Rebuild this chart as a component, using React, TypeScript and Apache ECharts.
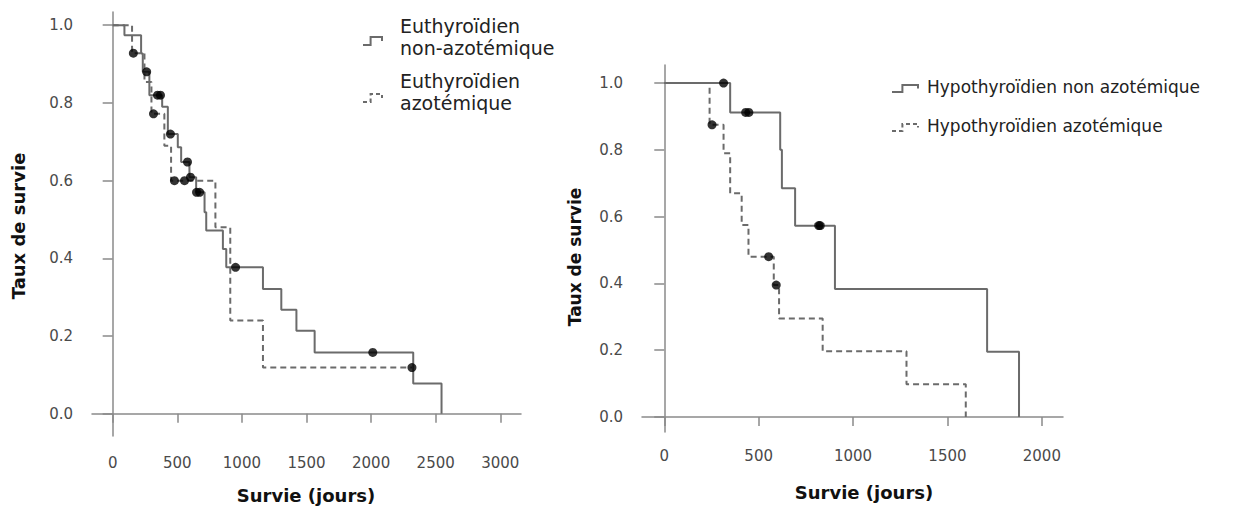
import React, { useEffect, useRef } from "react";
import * as echarts from "echarts";

// ---- Data ----
const yTicks = [0, 0.2, 0.4, 0.6, 0.8, 1.0];
const xTicksLeft = [0, 500, 1000, 1500, 2000, 2500, 3000];
const xTicksRight = [0, 500, 1000, 1500, 2000];

// Left: euthyroid
const euNonAzo: number[][] = [
  [0, 1], [91, 0.974], [220, 0.927], [233, 0.88], [284, 0.82], [383, 0.79], [427, 0.72],
  [504, 0.686], [530, 0.648], [594, 0.609], [646, 0.57], [711, 0.519], [724, 0.472],
  [853, 0.424], [879, 0.377], [1163, 0.321], [1305, 0.268], [1422, 0.214], [1563, 0.158],
  [2326, 0.078], [2545, 0],
];
const euNonAzoCensored: number[][] = [
  [263, 0.88], [347, 0.82], [370, 0.82], [447, 0.72], [579, 0.648], [602, 0.609],
  [649, 0.57], [673, 0.57], [951, 0.377], [2013, 0.158],
];
const euAzo: number[][] = [
  [0, 1], [150, 0.928], [246, 0.854], [300, 0.772], [400, 0.69], [452, 0.6],
  [795, 0.48], [910, 0.24], [1163, 0.119], [2316, 0.119],
];
const euAzoCensored: number[][] = [
  [160, 0.928], [316, 0.772], [478, 0.6], [556, 0.6], [2316, 0.119],
];

// Right: hypothyroid
const hypoNonAzo: number[][] = [
  [0, 1], [349, 0.912], [614, 0.8], [623, 0.685], [693, 0.573], [904, 0.383],
  [1710, 0.195], [1879, 0],
];
const hypoNonAzoCensored: number[][] = [
  [314, 1], [431, 0.912], [448, 0.912], [818, 0.573], [826, 0.573],
];
const hypoAzo: number[][] = [
  [0, 1], [240, 0.875], [314, 0.79], [349, 0.67], [410, 0.575], [446, 0.48],
  [580, 0.395], [608, 0.295], [839, 0.197], [1283, 0.098], [1597, 0],
];
const hypoAzoCensored: number[][] = [
  [253, 0.875], [553, 0.48], [593, 0.395],
];

const legendLeft = ["Euthyroïdien", "non-azotémique", "Euthyroïdien", "azotémique"];
const legendRight = ["Hypothyroïdien non azotémique", "Hypothyroïdien azotémique"];
const yTitle = "Taux de survie";
const xTitle = "Survie (jours)";

const LINE = "#6b6b6b";
const AXIS = "#8a8a8a";
const FONT = "DejaVu Sans";

function xAxis(gridIndex: number, min: number, max: number, ticks: number[]) {
  return {
    type: "value",
    gridIndex,
    min,
    max,
    splitLine: { show: false },
    axisLine: { show: true, lineStyle: { color: AXIS, width: 1.5 } },
    axisTick: { show: true, length: 9, customValues: ticks, lineStyle: { color: AXIS, width: 1.5 } },
    axisLabel: {
      customValues: ticks,
      formatter: (v: number) => String(Math.round(v)),
      fontFamily: FONT,
      fontSize: 15,
      color: "#4a4a4a",
      margin: gridIndex === 0 ? 19 : 16,
    },
  };
}

function yAxis(gridIndex: number, min: number, max: number) {
  return {
    type: "value",
    gridIndex,
    min,
    max,
    splitLine: { show: false },
    axisLine: { show: true, lineStyle: { color: AXIS, width: 1.5 } },
    axisTick: { show: true, length: 10, customValues: yTicks, lineStyle: { color: AXIS, width: 1.5 } },
    axisLabel: {
      customValues: yTicks,
      formatter: (v: number) => v.toFixed(1),
      fontFamily: FONT,
      fontSize: 15,
      color: "#4a4a4a",
      margin: 19,
    },
  };
}

function stepSeries(data: number[][], idx: number, dashed: boolean) {
  return {
    type: "line",
    xAxisIndex: idx,
    yAxisIndex: idx,
    step: "end",
    data,
    symbol: "none",
    lineStyle: { color: LINE, width: 2, type: dashed ? [6, 4] : "solid" },
    z: 2,
  };
}

function censorSeries(data: number[][], idx: number) {
  return {
    type: "scatter",
    xAxisIndex: idx,
    yAxisIndex: idx,
    data,
    symbol: "circle",
    symbolSize: 9,
    itemStyle: { color: "#000" },
    z: 3,
  };
}

function legendIcon(x: number, y: number, w: number, h: number, dashed: boolean) {
  return {
    type: "polyline",
    shape: {
      points: [
        [x, y], [x + w * 0.4, y], [x + w * 0.4, y - h], [x + w, y - h], [x + w, y - h * 0.5],
      ],
    },
    style: { stroke: LINE, lineWidth: 2, fill: null, lineDash: dashed ? [4, 3] : null },
  };
}

export default function App() {
  const ref = useRef<HTMLDivElement>(null);
  useEffect(() => {
    if (!ref.current) return;
    const chart = echarts.init(ref.current, undefined, { renderer: "svg" });
    const textStyle = (size: number, bold = false) => ({
      fontFamily: FONT,
      fontSize: size,
      fontWeight: bold ? "bold" : "normal",
      fill: bold ? "#111" : "#222",
    });
    chart.setOption({
      animation: false,
      backgroundColor: "#fff",
      grid: [
        { left: 92, top: 12, width: 429, height: 424 },
        { left: 642, top: 65, width: 421, height: 367 },
      ],
      xAxis: [xAxis(0, -160, 3160, xTicksLeft), xAxis(1, -118, 2112, xTicksRight)],
      yAxis: [yAxis(0, -0.057, 1.034), yAxis(1, -0.045, 1.054)],
      series: [
        stepSeries(euNonAzo, 0, false),
        stepSeries(euAzo, 0, true),
        censorSeries(euNonAzoCensored, 0),
        censorSeries(euAzoCensored, 0),
        stepSeries(hypoNonAzo, 1, false),
        stepSeries(hypoAzo, 1, true),
        censorSeries(hypoNonAzoCensored, 1),
        censorSeries(hypoAzoCensored, 1),
      ],
      graphic: [
        // axis titles
        { type: "text", x: 18, y: 226, rotation: Math.PI / 2, style: { ...textStyle(18, true), text: yTitle, align: "center", verticalAlign: "middle" } },
        { type: "text", x: 306, y: 495, style: { ...textStyle(18, true), text: xTitle, align: "center", verticalAlign: "middle" } },
        { type: "text", x: 575, y: 257, rotation: Math.PI / 2, style: { ...textStyle(17, true), text: yTitle, align: "center", verticalAlign: "middle" } },
        { type: "text", x: 864, y: 492, style: { ...textStyle(18, true), text: xTitle, align: "center", verticalAlign: "middle" } },
        // left legend
        legendIcon(363, 45, 19, 8, false),
        { type: "text", x: 400, y: 26, style: { ...textStyle(19), text: legendLeft[0], verticalAlign: "middle" } },
        { type: "text", x: 400, y: 48, style: { ...textStyle(19), text: legendLeft[1], verticalAlign: "middle" } },
        legendIcon(363, 102, 19, 8, true),
        { type: "text", x: 400, y: 81, style: { ...textStyle(19), text: legendLeft[2], verticalAlign: "middle" } },
        { type: "text", x: 400, y: 103, style: { ...textStyle(19), text: legendLeft[3], verticalAlign: "middle" } },
        // right legend
        legendIcon(892, 92, 26, 7, false),
        { type: "text", x: 927, y: 87, style: { ...textStyle(17), text: legendRight[0], verticalAlign: "middle" } },
        legendIcon(892, 131, 26, 7, true),
        { type: "text", x: 927, y: 126, style: { ...textStyle(17), text: legendRight[1], verticalAlign: "middle" } },
      ],
    });
    return () => chart.dispose();
  }, []);
  return (
    <div
      ref={ref}
      style={{ position: "fixed", left: 0, top: 0, width: 1239, height: 509, background: "#fff" }}
    />
  );
}
